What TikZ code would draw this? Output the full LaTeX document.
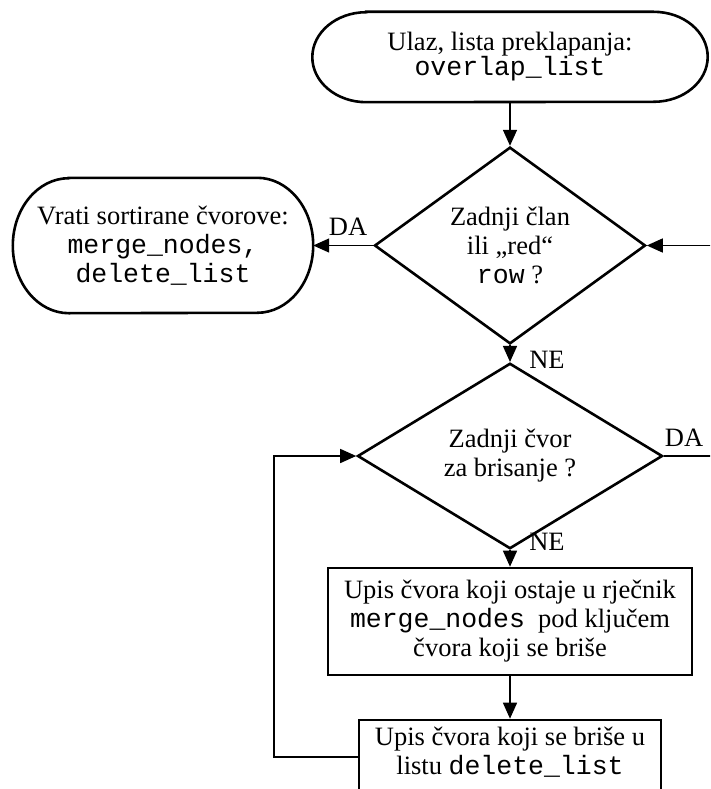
\documentclass[tikz,border=0pt]{standalone}
\usepackage{fontspec}
\setmainfont{Liberation Serif}
\setmonofont{Liberation Mono}
\usetikzlibrary{arrows.meta,shapes.geometric}
\tikzset{
  base/.style={font=\fontsize{26.5pt}{29pt}\selectfont, align=center, inner sep=0pt},
  termtext/.style={base, draw=none},
  outline/.style={line width=2.6pt, line join=miter},
  procbox/.style={base, draw, line width=2.6pt, rectangle},
  decision/.style={base, draw, line width=2.6pt, diamond},
  conn/.style={line width=1.5pt},
  arr/.style={conn, -{Triangle[length=16pt,width=14pt]}},
  lbl/.style={base}
}
\begin{document}
\begin{tikzpicture}[x=1pt,y=-1pt]
\useasboundingbox (0,0) rectangle (710,789);
\clip (0,0) rectangle (710,789);
\fill[white] (0,0) rectangle (710,789);

% start terminal
\node[termtext, minimum width=395pt, minimum height=90pt] (start) at (510,57)
  {Ulaz, lista preklapanja:\\[-4pt]\texttt{overlap\_list}};
\draw[outline] ([xshift=54pt]start.north west) -- ([xshift=-54pt]start.north east)
  arc[start angle=90,end angle=-90,x radius=54pt,y radius=45pt]
  -- ([xshift=54pt]start.south west)
  arc[start angle=270,end angle=90,x radius=54pt,y radius=45pt] -- cycle;

% decision 1
\node[decision, minimum width=271pt, minimum height=195pt] (d1) at (510,245.5)
  {Zadnji član\\ili „red“\\\texttt{row} ?};

% return terminal
\node[termtext, minimum width=300pt, minimum height=135pt] (ret) at (163,245.5)
  {Vrati sortirane čvorove:\\\texttt{merge\_nodes,}\\\texttt{delete\_list}};
\draw[outline] ([xshift=56pt]ret.north west) -- ([xshift=-56pt]ret.north east)
  arc[start angle=90,end angle=-90,x radius=56pt,y radius=67.5pt]
  -- ([xshift=56pt]ret.south west)
  arc[start angle=270,end angle=90,x radius=56pt,y radius=67.5pt] -- cycle;

% decision 2
\node[decision, minimum width=305pt, minimum height=136pt] (d2) at (510,456)
  {Zadnji čvor\\za brisanje ?};

% process boxes
\node[procbox, minimum width=364pt, minimum height=107pt] (b1) at (510,621.5)
  {Upis čvora koji ostaje u rječnik\\\texttt{merge\_nodes}\ \ pod ključem\\čvora koji se briše};
\node[procbox, minimum width=302pt, minimum height=100pt] (b2) at (510,770)
  {Upis čvora koji se briše u\\listu \texttt{delete\_list}\\\strut};

% free ends
\coordinate (rin) at (714,245.5);
\coordinate (rout) at (714,456);
\coordinate (loopx) at (274,0);

% connectors
\draw[arr] (start) -- (d1);
\draw[arr] (d1.west) -- (ret.east);
\draw[arr] (rin) -- (d1.east);
\draw[arr] (d1.south) -- (d2.north);
\draw[conn] (d2.east) -- (rout);
\draw[arr] (d2.south) -- (b1.north);
\draw[arr] (b1.south) -- (b2.north);
\draw[arr] ([yshift=13pt]b2.west) -- ([yshift=13pt]b2.west -| loopx) |- (d2.west);

% labels
\node[lbl] (da1) at (348,227) {DA};
\node[lbl] (ne1) at (547,360) {NE};
\node[lbl] (da2) at (684,438) {DA};
\node[lbl] (ne2) at (547,542) {NE};
\end{tikzpicture}
\end{document}
